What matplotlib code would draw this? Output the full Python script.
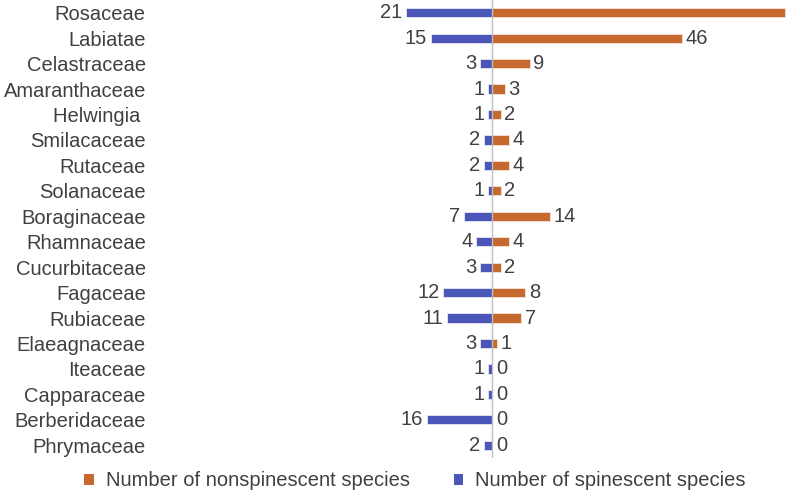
import matplotlib
matplotlib.use("Agg")
import matplotlib.pyplot as plt
from matplotlib.patches import Patch

plt.rcParams['font.family'] = ['Liberation Sans', 'DejaVu Sans']

families = ["Rosaceae", "Labiatae", "Celastraceae", "Amaranthaceae", "Helwingia ",
            "Smilacaceae", "Rutaceae", "Solanaceae", "Boraginaceae", "Rhamnaceae",
            "Cucurbitaceae", "Fagaceae", "Rubiaceae", "Elaeagnaceae", "Iteaceae",
            "Capparaceae", "Berberidaceae", "Phrymaceae"]
spinescent = [21, 15, 3, 1, 1, 2, 2, 1, 7, 4, 3, 12, 11, 3, 1, 1, 16, 2]
nonspinescent = [71, 46, 9, 3, 2, 4, 4, 2, 14, 4, 2, 8, 7, 1, 0, 0, 0, 0]

orange = "#C5692F"
blue = "#4A56B8"
txt = "#404040"
fs = 14.5

fig = plt.figure(figsize=(7.87, 4.92), dpi=100)
ax = fig.add_axes([200/787, 1 - 458/492, 587/787, 458/492])

y = list(range(len(families)))
h = 0.36
xmax = 71.5
ax.barh(y, [-v for v in spinescent], height=h, color=blue, edgecolor="#E8E8F4", linewidth=0.6)
ax.barh(y, nonspinescent, height=h, color=orange, edgecolor="#F4E4DA", linewidth=0.6)

for yi, s, n in zip(y, spinescent, nonspinescent):
    ax.text(-s - 0.9, yi, str(s), ha="right", va="center", fontsize=fs, color=txt)
    if n + 6 < xmax:
        ax.text(n + 0.9, yi, str(n), ha="left", va="center", fontsize=fs, color=txt)

ax.set_xlim(-71, xmax)
ax.set_ylim(len(families) - 0.5, -0.5)
ax.axvline(0, color="#BFBFBF", linewidth=1)
ax.set_yticks(y)
ax.set_yticklabels(families, fontsize=fs, color=txt)
ax.tick_params(axis="y", length=0, pad=39)
ax.set_xticks([])
for s in ax.spines.values():
    s.set_visible(False)

handles = [Patch(facecolor=orange, label="Number of nonspinescent species"),
           Patch(facecolor=blue, label="Number of spinescent species")]
leg = fig.legend(handles=handles, loc="center", bbox_to_anchor=(415/787, 1 - 481/492),
                 ncol=2, frameon=False, fontsize=fs, handlelength=0.45, handleheight=0.45,
                 columnspacing=2.2, handletextpad=0.6)
for t in leg.get_texts():
    t.set_color(txt)

fig.savefig("out.png", dpi=100)
